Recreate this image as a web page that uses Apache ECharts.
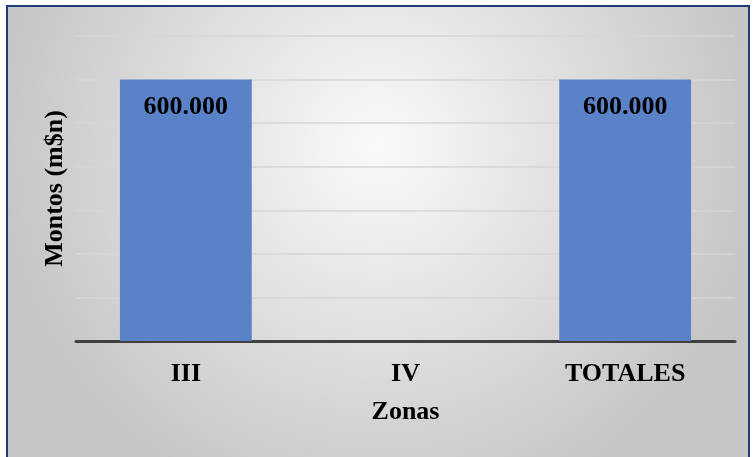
<!DOCTYPE html>
<html>
<head>
<meta charset="utf-8">
<script src="https://cdn.jsdelivr.net/npm/echarts@6/dist/echarts.min.js"></script>
<style>
  html, body { margin: 0; padding: 0; background: #fff; }
  #chart { width: 754px; height: 457px; }
</style>
</head>
<body>
<div id="chart"></div>
<script>
// zonas y montos (m$n)
var zonas = ['III', 'IV', 'TOTALES'];
var montos = [600000, 0, 600000];
var yMax = 700000;
var yStep = 100000;

function fmtMonto(v) {
  // 600000 -> "600.000"
  return String(v).replace(/\B(?=(\d{3})+(?!\d))/g, '.');
}

var chart = echarts.init(document.getElementById('chart'));
var serif = '"Liberation Serif", "DejaVu Serif", serif';

var option = {
  animation: false,
  graphic: [{
    type: 'rect',
    z: -10,
    shape: { x: 7, y: 6, width: 742, height: 470 },
    style: {
      fill: {
        type: 'radial', x: 0.5, y: 0.3, r: 0.8,
        colorStops: [
          { offset: 0, color: '#fafafa' },
          { offset: 1, color: '#c6c6c6' }
        ]
      },
      stroke: '#1f3a7a',
      lineWidth: 2
    }
  }],
  grid: { left: 76, right: 19, top: 36, bottom: 116 },
  xAxis: {
    type: 'category',
    data: zonas,
    name: 'Zonas',
    nameLocation: 'middle',
    nameGap: 58,
    nameTextStyle: { fontFamily: serif, fontWeight: 'bold', fontSize: 26, color: '#000' },
    axisLine: { lineStyle: { color: '#404040', width: 3 } },
    axisTick: { show: false },
    axisLabel: { fontFamily: serif, fontWeight: 'bold', fontSize: 26, color: '#000', margin: 20 }
  },
  yAxis: {
    type: 'value',
    min: 0,
    max: yMax,
    interval: yStep,
    name: 'Montos (m$n)',
    nameLocation: 'middle',
    nameGap: 8,
    nameTextStyle: { fontFamily: serif, fontWeight: 'bold', fontSize: 26, color: '#000' },
    axisLabel: { show: false },
    axisLine: { show: false },
    axisTick: { show: false },
    splitLine: { lineStyle: { color: '#d6d6d6', width: 1.5 } }
  },
  series: [{
    type: 'bar',
    data: montos,
    barWidth: '60%',
    itemStyle: { color: '#5a82c8' },
    label: {
      show: true,
      position: 'insideTop',
      distance: 15,
      fontFamily: serif,
      fontWeight: 'bold',
      fontSize: 26,
      color: '#000',
      formatter: function (p) { return p.value ? fmtMonto(p.value) : ''; }
    }
  }]
};

chart.setOption(option);
</script>
</body>
</html>
